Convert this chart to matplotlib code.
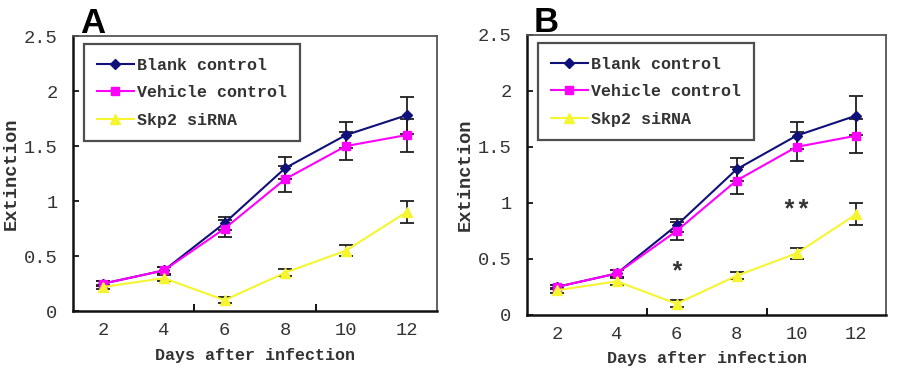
import numpy as np
import matplotlib
matplotlib.use("Agg")
from matplotlib import pyplot as plt

days = [2, 4, 6, 8, 10, 12]
blank = [0.25, 0.37, 0.80, 1.30, 1.60, 1.78]
blank_err = [0.02, 0.03, 0.06, 0.10, 0.12, 0.17]
vehicle = [0.25, 0.37, 0.75, 1.20, 1.50, 1.60]
vehicle_err = [0.02, 0.03, 0.08, 0.12, 0.13, 0.15]
skp2 = [0.22, 0.30, 0.10, 0.35, 0.55, 0.90]
skp2_err = [0.02, 0.03, 0.03, 0.03, 0.05, 0.10]
yticks = [0, 0.5, 1, 1.5, 2, 2.5]
ytick_labels = ["0", "0.5", "1", "1.5", "2", "2.5"]
stars = [(6, 0.38, "*"), (10, 0.93, "**")]

mono = "Liberation Mono"

def draw_panel(ax, letter, with_stars):
	series = [
		("Blank control", blank, blank_err, "#10107a", "D", 5),
		("Vehicle control", vehicle, vehicle_err, "#ff00ff", "s", 6),
		("Skp2 siRNA", skp2, skp2_err, "#f5f530", "^", 7),
	]
	handles = []
	for name, vals, err, col, mk, ms in series:
		c = ax.errorbar(days, vals, yerr=err, color=col, marker=mk, markersize=ms,
			linewidth=1.5, ecolor="#202020", elinewidth=1.3, capsize=5, capthick=1.3,
			zorder=3)
		handles.append(c[0])
	ax.set_xlim(1, 13)
	ax.set_ylim(0, 2.5)
	ax.set_xticks(days)
	ax.set_xticks([5, 9], minor=True)
	ax.set_yticks(yticks)
	ax.set_yticklabels(ytick_labels)
	ax.tick_params(axis="x", which="major", length=0, pad=8)
	ax.tick_params(axis="x", which="minor", direction="in", length=5, width=1.3)
	ax.tick_params(axis="y", direction="in", length=4, width=1.2, pad=11)
	for lab in ax.get_xticklabels() + ax.get_yticklabels():
		lab.set_fontfamily(mono)
		lab.set_fontsize(13.5)
		lab.set_color("#333333")
	for sp in ax.spines.values():
		sp.set_color("#555555")
		sp.set_linewidth(1.3)
	ax.spines["bottom"].set_color("#111111")
	ax.spines["bottom"].set_linewidth(1.8)
	ax.spines["left"].set_color("#111111")
	ax.spines["left"].set_linewidth(1.8)
	ax.set_xlabel("Days after infection", fontfamily=mono, fontsize=12,
		fontweight="bold", color="#333333", labelpad=6)
	ax.set_ylabel("Extinction", fontfamily=mono, fontsize=13.5,
		fontweight="bold", color="#333333", labelpad=3)
	leg = ax.legend(handles, [s[0] for s in series], loc="upper left",
		bbox_to_anchor=(0.03, 0.97), frameon=True,
		fancybox=False, edgecolor="#222222", handlelength=2.2, borderpad=0.8,
		labelspacing=0.75, handletextpad=0.2, borderaxespad=0,
		prop={"family": mono, "size": 12, "weight": "bold"})
	leg.get_frame().set_linewidth(1.6)
	for t in leg.get_texts():
		t.set_color("#333333")
	ax.text(0.02, 1.012, letter, transform=ax.transAxes, fontsize=25,
		fontweight="bold", fontfamily="Liberation Sans", va="baseline", ha="left")
	if with_stars:
		for x, y, s in stars:
			ax.text(x, y, s, ha="center", va="center", fontsize=18,
				fontweight="bold", fontfamily=mono, color="#333333")

fig = plt.figure(figsize=(8.99, 3.79), dpi=100)
ax1 = fig.add_axes([0.081, 0.179, 0.405, 0.726])
ax2 = fig.add_axes([0.586, 0.169, 0.400, 0.739])
draw_panel(ax1, "A", False)
draw_panel(ax2, "B", True)
fig.savefig("out.png", dpi=100)
